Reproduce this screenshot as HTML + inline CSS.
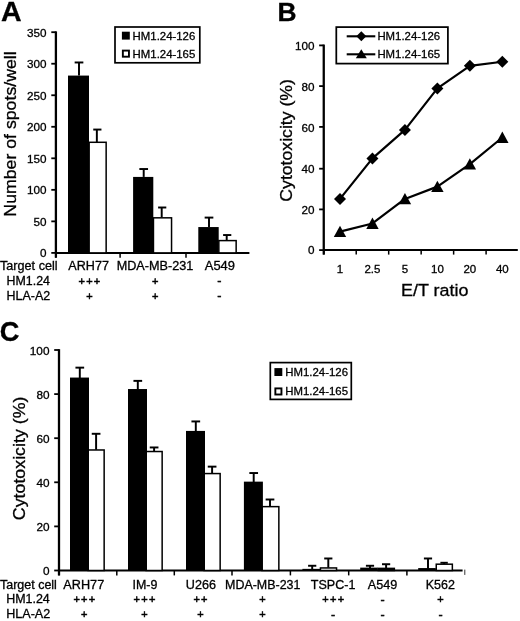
<!DOCTYPE html>
<html><head><meta charset="utf-8"><title>Figure</title>
<style>
html,body{margin:0;padding:0;background:#fff;}
svg{display:block;font-family:'Liberation Sans', Arial, Helvetica, sans-serif;fill:#000;}
text{stroke:#000;stroke-width:0.3px;}
</style></head>
<body>
<svg width="520" height="621" viewBox="0 0 520 621">
<rect x="0" y="0" width="520" height="621" fill="#fff"/>
<line x1="55.90" y1="31.35" x2="55.90" y2="257.70" stroke="#000" stroke-width="2.3" />
<line x1="55.90" y1="252.90" x2="249.40" y2="252.90" stroke="#000" stroke-width="2.0" />
<line x1="51.30" y1="252.90" x2="55.90" y2="252.90" stroke="#000" stroke-width="1.8" />
<text x="46.50" y="257.45" font-size="11.7" text-anchor="end" font-weight="normal" >0</text>
<line x1="51.30" y1="221.37" x2="55.90" y2="221.37" stroke="#000" stroke-width="1.8" />
<text x="46.50" y="225.92" font-size="11.7" text-anchor="end" font-weight="normal" >50</text>
<line x1="51.30" y1="189.84" x2="55.90" y2="189.84" stroke="#000" stroke-width="1.8" />
<text x="46.50" y="194.39" font-size="11.7" text-anchor="end" font-weight="normal" >100</text>
<line x1="51.30" y1="158.31" x2="55.90" y2="158.31" stroke="#000" stroke-width="1.8" />
<text x="46.50" y="162.86" font-size="11.7" text-anchor="end" font-weight="normal" >150</text>
<line x1="51.30" y1="126.79" x2="55.90" y2="126.79" stroke="#000" stroke-width="1.8" />
<text x="46.50" y="131.34" font-size="11.7" text-anchor="end" font-weight="normal" >200</text>
<line x1="51.30" y1="95.26" x2="55.90" y2="95.26" stroke="#000" stroke-width="1.8" />
<text x="46.50" y="99.81" font-size="11.7" text-anchor="end" font-weight="normal" >250</text>
<line x1="51.30" y1="63.73" x2="55.90" y2="63.73" stroke="#000" stroke-width="1.8" />
<text x="46.50" y="68.28" font-size="11.7" text-anchor="end" font-weight="normal" >300</text>
<line x1="51.30" y1="32.20" x2="55.90" y2="32.20" stroke="#000" stroke-width="1.8" />
<text x="46.50" y="36.75" font-size="11.7" text-anchor="end" font-weight="normal" >350</text>
<line x1="55.80" y1="252.90" x2="55.80" y2="257.70" stroke="#000" stroke-width="1.5" />
<line x1="120.10" y1="252.90" x2="120.10" y2="257.70" stroke="#000" stroke-width="1.5" />
<line x1="186.00" y1="252.90" x2="186.00" y2="257.70" stroke="#000" stroke-width="1.5" />
<line x1="79.00" y1="62.47" x2="79.00" y2="75.58" stroke="#000" stroke-width="1.95" />
<line x1="74.65" y1="62.47" x2="83.35" y2="62.47" stroke="#000" stroke-width="1.95" />
<line x1="96.85" y1="129.56" x2="96.85" y2="142.04" stroke="#000" stroke-width="1.95" />
<line x1="93.25" y1="129.56" x2="101.45" y2="129.56" stroke="#000" stroke-width="1.95" />
<rect x="68.00" y="75.58" width="21.00" height="177.32" fill="#000"/>
<rect x="89.15" y="142.29" width="17.00" height="110.61" fill="#fff" stroke="#000" stroke-width="1.5"/>
<line x1="143.70" y1="169.03" x2="143.70" y2="176.92" stroke="#000" stroke-width="1.95" />
<line x1="139.35" y1="169.03" x2="148.05" y2="169.03" stroke="#000" stroke-width="1.95" />
<line x1="161.70" y1="207.50" x2="161.70" y2="217.58" stroke="#000" stroke-width="1.95" />
<line x1="158.10" y1="207.50" x2="166.30" y2="207.50" stroke="#000" stroke-width="1.95" />
<rect x="133.10" y="176.92" width="20.20" height="75.98" fill="#000"/>
<rect x="153.45" y="217.83" width="18.10" height="35.07" fill="#fff" stroke="#000" stroke-width="1.5"/>
<line x1="209.00" y1="217.59" x2="209.00" y2="227.05" stroke="#000" stroke-width="1.95" />
<line x1="204.65" y1="217.59" x2="213.35" y2="217.59" stroke="#000" stroke-width="1.95" />
<line x1="226.70" y1="235.05" x2="226.70" y2="240.35" stroke="#000" stroke-width="1.95" />
<line x1="223.10" y1="235.05" x2="231.30" y2="235.05" stroke="#000" stroke-width="1.95" />
<rect x="198.30" y="227.05" width="20.40" height="25.85" fill="#000"/>
<rect x="218.85" y="240.60" width="17.30" height="12.30" fill="#fff" stroke="#000" stroke-width="1.5"/>
<rect x="115.0" y="27.0" width="84.8" height="35.8" fill="#fff" stroke="#000" stroke-width="1.7"/>
<rect x="121.9" y="31.7" width="7.9" height="7.9" fill="#000"/>
<rect x="122.85" y="50.6" width="6.1" height="6.1" fill="#fff" stroke="#000" stroke-width="1.9"/>
<text x="132.60" y="39.50" font-size="11.4" text-anchor="start" font-weight="normal" >HM1.24-126</text>
<text x="132.60" y="57.50" font-size="11.4" text-anchor="start" font-weight="normal" >HM1.24-165</text>
<text x="0.00" y="270.40" font-size="12.3" text-anchor="start" font-weight="normal"  textLength="57.6" lengthAdjust="spacingAndGlyphs">Target cell</text>
<text x="6.60" y="284.60" font-size="12.3" text-anchor="start" font-weight="normal"  textLength="43.4" lengthAdjust="spacingAndGlyphs">HM1.24</text>
<text x="6.60" y="300.00" font-size="12.3" text-anchor="start" font-weight="normal"  textLength="43.6" lengthAdjust="spacingAndGlyphs">HLA-A2</text>
<text x="88.60" y="270.40" font-size="12.3" text-anchor="middle" font-weight="normal"  textLength="40.6" lengthAdjust="spacingAndGlyphs">ARH77</text>
<text x="155.00" y="270.40" font-size="12.3" text-anchor="middle" font-weight="normal"  textLength="76.6" lengthAdjust="spacingAndGlyphs">MDA-MB-231</text>
<text x="219.90" y="270.40" font-size="12.3" text-anchor="middle" font-weight="normal"  textLength="30.2" lengthAdjust="spacingAndGlyphs">A549</text>
<text x="90.03" y="284.65" font-size="11.0" text-anchor="middle" font-weight="normal" style="stroke-width:0.5px;letter-spacing:1.25px">+++</text>
<text x="89.50" y="299.65" font-size="11.0" text-anchor="middle" font-weight="normal" style="stroke-width:0.5px">+</text>
<text x="155.30" y="284.65" font-size="11.0" text-anchor="middle" font-weight="normal" style="stroke-width:0.5px">+</text>
<text x="155.30" y="299.65" font-size="11.0" text-anchor="middle" font-weight="normal" style="stroke-width:0.5px">+</text>
<text x="219.30" y="285.30" font-size="12.5" text-anchor="middle" font-weight="normal" style="stroke-width:0.45px">-</text>
<text x="219.30" y="300.30" font-size="12.5" text-anchor="middle" font-weight="normal" style="stroke-width:0.45px">-</text>
<text transform="translate(16.20,134.00) rotate(-90)" font-size="17.0" text-anchor="middle" textLength="165.3" lengthAdjust="spacingAndGlyphs">Number of spots/well</text>
<text x="1.00" y="20.60" font-size="27.2" text-anchor="start" font-weight="bold"  textLength="20.6" lengthAdjust="spacingAndGlyphs">A</text>
<line x1="323.75" y1="44.55" x2="323.75" y2="254.60" stroke="#000" stroke-width="2.3" />
<line x1="323.75" y1="250.10" x2="517.80" y2="250.10" stroke="#000" stroke-width="2.0" />
<line x1="319.15" y1="250.10" x2="323.75" y2="250.10" stroke="#000" stroke-width="1.8" />
<text x="314.60" y="254.40" font-size="11.7" text-anchor="end" font-weight="normal" >0</text>
<line x1="319.15" y1="209.40" x2="323.75" y2="209.40" stroke="#000" stroke-width="1.8" />
<text x="314.60" y="214.05" font-size="11.7" text-anchor="end" font-weight="normal" >20</text>
<line x1="319.15" y1="168.70" x2="323.75" y2="168.70" stroke="#000" stroke-width="1.8" />
<text x="314.60" y="173.35" font-size="11.7" text-anchor="end" font-weight="normal" >40</text>
<line x1="319.15" y1="126.90" x2="323.75" y2="126.90" stroke="#000" stroke-width="1.8" />
<text x="314.60" y="131.55" font-size="11.7" text-anchor="end" font-weight="normal" >60</text>
<line x1="319.15" y1="86.10" x2="323.75" y2="86.10" stroke="#000" stroke-width="1.8" />
<text x="314.60" y="90.75" font-size="11.7" text-anchor="end" font-weight="normal" >80</text>
<line x1="319.15" y1="45.40" x2="323.75" y2="45.40" stroke="#000" stroke-width="1.8" />
<text x="314.60" y="50.05" font-size="11.7" text-anchor="end" font-weight="normal" >100</text>
<line x1="323.75" y1="250.10" x2="323.75" y2="254.60" stroke="#000" stroke-width="1.5" />
<line x1="356.22" y1="250.10" x2="356.22" y2="254.60" stroke="#000" stroke-width="1.5" />
<line x1="388.69" y1="250.10" x2="388.69" y2="254.60" stroke="#000" stroke-width="1.5" />
<line x1="421.16" y1="250.10" x2="421.16" y2="254.60" stroke="#000" stroke-width="1.5" />
<line x1="453.63" y1="250.10" x2="453.63" y2="254.60" stroke="#000" stroke-width="1.5" />
<line x1="486.10" y1="250.10" x2="486.10" y2="254.60" stroke="#000" stroke-width="1.5" />
<polyline points="339.99,198.93 372.45,158.39 404.93,129.94 437.39,88.39 469.87,65.87 502.33,61.78" fill="none" stroke="#000" stroke-width="2.2" stroke-linejoin="round"/>
<polyline points="339.99,231.68 372.45,223.49 404.93,198.93 437.39,186.64 469.87,164.13 502.33,137.51" fill="none" stroke="#000" stroke-width="2.2" stroke-linejoin="round"/>
<polygon points="333.99,198.93 339.99,192.93 345.99,198.93 339.99,204.93" fill="#000"/>
<polygon points="366.45,158.39 372.45,152.39 378.45,158.39 372.45,164.39" fill="#000"/>
<polygon points="398.93,129.94 404.93,123.94 410.93,129.94 404.93,135.94" fill="#000"/>
<polygon points="431.39,88.39 437.39,82.39 443.39,88.39 437.39,94.39" fill="#000"/>
<polygon points="463.87,65.87 469.87,59.87 475.87,65.87 469.87,71.87" fill="#000"/>
<polygon points="496.33,61.78 502.33,55.78 508.33,61.78 502.33,67.78" fill="#000"/>
<polygon points="333.79,237.08 339.99,225.68 346.19,237.08" fill="#000"/>
<polygon points="366.25,228.89 372.45,217.49 378.65,228.89" fill="#000"/>
<polygon points="398.73,204.32 404.93,192.93 411.12,204.32" fill="#000"/>
<polygon points="431.19,192.04 437.39,180.64 443.59,192.04" fill="#000"/>
<polygon points="463.67,169.53 469.87,158.13 476.06,169.53" fill="#000"/>
<polygon points="496.13,142.91 502.33,131.51 508.53,142.91" fill="#000"/>
<text x="339.99" y="273.10" font-size="11.5" text-anchor="middle" font-weight="normal" >1</text>
<text x="372.45" y="273.10" font-size="11.5" text-anchor="middle" font-weight="normal" >2.5</text>
<text x="404.93" y="273.10" font-size="11.5" text-anchor="middle" font-weight="normal" >5</text>
<text x="437.39" y="273.10" font-size="11.5" text-anchor="middle" font-weight="normal" >10</text>
<text x="469.87" y="273.10" font-size="11.5" text-anchor="middle" font-weight="normal" >20</text>
<text x="502.33" y="273.10" font-size="11.5" text-anchor="middle" font-weight="normal" >40</text>
<text x="434.70" y="295.50" font-size="16.8" text-anchor="middle" font-weight="normal"  textLength="67.4" lengthAdjust="spacingAndGlyphs">E/T ratio</text>
<text transform="translate(292.00,140.40) rotate(-90)" font-size="17.0" text-anchor="middle" textLength="122.6" lengthAdjust="spacingAndGlyphs">Cytotoxicity (%)</text>
<text x="277.40" y="21.20" font-size="26.4" text-anchor="start" font-weight="bold" >B</text>
<rect x="336.3" y="27.1" width="111.6" height="36.5" fill="#fff" stroke="#000" stroke-width="1.75"/>
<line x1="346.70" y1="36.30" x2="375.30" y2="36.30" stroke="#000" stroke-width="2.1" />
<line x1="346.70" y1="54.30" x2="375.30" y2="54.30" stroke="#000" stroke-width="2.1" />
<polygon points="356.30,36.30 361.30,31.30 366.30,36.30 361.30,41.30" fill="#000"/>
<polygon points="355.80,58.20 361.30,49.20 366.80,58.20" fill="#000"/>
<text x="377.40" y="40.10" font-size="11.4" text-anchor="start" font-weight="normal" >HM1.24-126</text>
<text x="377.40" y="57.60" font-size="11.4" text-anchor="start" font-weight="normal" >HM1.24-165</text>
<line x1="59.00" y1="349.15" x2="59.00" y2="575.40" stroke="#000" stroke-width="2.3" />
<line x1="59.00" y1="570.50" x2="462.60" y2="570.50" stroke="#000" stroke-width="2.0" />
<line x1="54.20" y1="570.50" x2="59.00" y2="570.50" stroke="#000" stroke-width="1.8" />
<text x="49.50" y="575.30" font-size="11.8" text-anchor="end" font-weight="normal" >0</text>
<line x1="54.20" y1="526.40" x2="59.00" y2="526.40" stroke="#000" stroke-width="1.8" />
<text x="49.50" y="531.20" font-size="11.8" text-anchor="end" font-weight="normal" >20</text>
<line x1="54.20" y1="482.30" x2="59.00" y2="482.30" stroke="#000" stroke-width="1.8" />
<text x="49.50" y="487.10" font-size="11.8" text-anchor="end" font-weight="normal" >40</text>
<line x1="54.20" y1="438.20" x2="59.00" y2="438.20" stroke="#000" stroke-width="1.8" />
<text x="49.50" y="443.00" font-size="11.8" text-anchor="end" font-weight="normal" >60</text>
<line x1="54.20" y1="394.10" x2="59.00" y2="394.10" stroke="#000" stroke-width="1.8" />
<text x="49.50" y="398.90" font-size="11.8" text-anchor="end" font-weight="normal" >80</text>
<line x1="54.20" y1="350.00" x2="59.00" y2="350.00" stroke="#000" stroke-width="1.8" />
<text x="49.50" y="354.80" font-size="11.8" text-anchor="end" font-weight="normal" >100</text>
<line x1="59.00" y1="570.50" x2="59.00" y2="575.40" stroke="#000" stroke-width="1.5" />
<line x1="116.80" y1="570.50" x2="116.80" y2="575.40" stroke="#000" stroke-width="1.5" />
<line x1="174.30" y1="570.50" x2="174.30" y2="575.40" stroke="#000" stroke-width="1.5" />
<line x1="232.00" y1="570.50" x2="232.00" y2="575.40" stroke="#000" stroke-width="1.5" />
<line x1="290.40" y1="570.50" x2="290.40" y2="575.40" stroke="#000" stroke-width="1.5" />
<line x1="348.70" y1="570.50" x2="348.70" y2="575.40" stroke="#000" stroke-width="1.5" />
<line x1="406.90" y1="570.50" x2="406.90" y2="575.40" stroke="#000" stroke-width="1.5" />
<line x1="464.8" y1="569.6" x2="464.8" y2="574.9" stroke="#333" stroke-width="1"/>
<rect x="88.05" y="449.98" width="16.10" height="120.52" fill="#fff" stroke="#000" stroke-width="1.5"/>
<rect x="70.00" y="377.56" width="19.00" height="192.94" fill="#000"/>
<line x1="79.80" y1="367.64" x2="79.80" y2="378.36" stroke="#000" stroke-width="1.95" />
<line x1="75.45" y1="367.64" x2="84.15" y2="367.64" stroke="#000" stroke-width="1.95" />
<line x1="96.10" y1="433.79" x2="96.10" y2="449.73" stroke="#000" stroke-width="1.95" />
<line x1="91.75" y1="433.79" x2="100.45" y2="433.79" stroke="#000" stroke-width="1.95" />
<rect x="146.05" y="451.52" width="16.10" height="118.98" fill="#fff" stroke="#000" stroke-width="1.5"/>
<rect x="128.00" y="389.03" width="19.00" height="181.47" fill="#000"/>
<line x1="137.80" y1="380.87" x2="137.80" y2="389.83" stroke="#000" stroke-width="1.95" />
<line x1="133.45" y1="380.87" x2="142.15" y2="380.87" stroke="#000" stroke-width="1.95" />
<line x1="154.10" y1="447.46" x2="154.10" y2="451.27" stroke="#000" stroke-width="1.95" />
<line x1="149.75" y1="447.46" x2="158.45" y2="447.46" stroke="#000" stroke-width="1.95" />
<rect x="204.05" y="473.57" width="16.10" height="96.93" fill="#fff" stroke="#000" stroke-width="1.5"/>
<rect x="186.00" y="430.92" width="19.00" height="139.58" fill="#000"/>
<line x1="195.80" y1="421.44" x2="195.80" y2="431.72" stroke="#000" stroke-width="1.95" />
<line x1="191.45" y1="421.44" x2="200.15" y2="421.44" stroke="#000" stroke-width="1.95" />
<line x1="212.10" y1="466.64" x2="212.10" y2="473.32" stroke="#000" stroke-width="1.95" />
<line x1="207.75" y1="466.64" x2="216.45" y2="466.64" stroke="#000" stroke-width="1.95" />
<rect x="261.95" y="506.64" width="16.90" height="63.86" fill="#fff" stroke="#000" stroke-width="1.5"/>
<rect x="243.90" y="481.64" width="19.00" height="88.86" fill="#000"/>
<line x1="253.70" y1="473.04" x2="253.70" y2="482.44" stroke="#000" stroke-width="1.95" />
<line x1="249.35" y1="473.04" x2="258.05" y2="473.04" stroke="#000" stroke-width="1.95" />
<line x1="270.00" y1="499.50" x2="270.00" y2="506.39" stroke="#000" stroke-width="1.95" />
<line x1="265.65" y1="499.50" x2="274.35" y2="499.50" stroke="#000" stroke-width="1.95" />
<rect x="320.45" y="567.94" width="16.10" height="2.56" fill="#fff" stroke="#000" stroke-width="1.5"/>
<rect x="302.40" y="568.85" width="17.60" height="1.65" fill="#000"/>
<line x1="312.20" y1="565.76" x2="312.20" y2="569.65" stroke="#000" stroke-width="1.95" />
<line x1="308.10" y1="565.76" x2="316.30" y2="565.76" stroke="#000" stroke-width="1.95" />
<line x1="328.30" y1="558.48" x2="328.30" y2="567.69" stroke="#000" stroke-width="1.95" />
<line x1="324.20" y1="558.48" x2="332.40" y2="558.48" stroke="#000" stroke-width="1.95" />
<rect x="378.25" y="568.38" width="16.10" height="2.12" fill="#000" stroke="#000" stroke-width="1.5"/>
<rect x="360.20" y="567.63" width="17.60" height="2.87" fill="#000"/>
<line x1="370.00" y1="565.76" x2="370.00" y2="568.43" stroke="#000" stroke-width="1.95" />
<line x1="365.90" y1="565.76" x2="374.10" y2="565.76" stroke="#000" stroke-width="1.95" />
<line x1="386.10" y1="564.22" x2="386.10" y2="568.13" stroke="#000" stroke-width="1.95" />
<line x1="382.00" y1="564.22" x2="390.20" y2="564.22" stroke="#000" stroke-width="1.95" />
<rect x="436.25" y="564.19" width="16.10" height="6.31" fill="#fff" stroke="#000" stroke-width="1.5"/>
<rect x="418.20" y="568.07" width="17.60" height="2.43" fill="#000"/>
<line x1="428.00" y1="558.48" x2="428.00" y2="568.87" stroke="#000" stroke-width="1.95" />
<line x1="423.90" y1="558.48" x2="432.10" y2="558.48" stroke="#000" stroke-width="1.95" />
<line x1="444.10" y1="562.78" x2="444.10" y2="563.94" stroke="#000" stroke-width="1.95" />
<line x1="440.40" y1="562.78" x2="447.80" y2="562.78" stroke="#000" stroke-width="1.95" />
<rect x="270.3" y="362.6" width="81.0" height="36.8" fill="#fff" stroke="#000" stroke-width="1.7"/>
<rect x="274.4" y="368.1" width="7.9" height="7.9" fill="#000"/>
<rect x="275.35" y="388.4" width="6.1" height="6.1" fill="#fff" stroke="#000" stroke-width="1.9"/>
<text x="285.30" y="376.30" font-size="11.4" text-anchor="start" font-weight="normal" >HM1.24-126</text>
<text x="285.30" y="395.10" font-size="11.4" text-anchor="start" font-weight="normal" >HM1.24-165</text>
<text x="0.00" y="588.90" font-size="12.3" text-anchor="start" font-weight="normal"  textLength="56.9" lengthAdjust="spacingAndGlyphs">Target cell</text>
<text x="6.20" y="603.30" font-size="12.3" text-anchor="start" font-weight="normal"  textLength="43.6" lengthAdjust="spacingAndGlyphs">HM1.24</text>
<text x="6.20" y="618.20" font-size="12.3" text-anchor="start" font-weight="normal"  textLength="44.0" lengthAdjust="spacingAndGlyphs">HLA-A2</text>
<text x="83.75" y="588.90" font-size="12.3" text-anchor="middle" font-weight="normal"  textLength="40.9" lengthAdjust="spacingAndGlyphs">ARH77</text>
<text x="145.00" y="588.90" font-size="12.3" text-anchor="middle" font-weight="normal"  textLength="24.9" lengthAdjust="spacingAndGlyphs">IM-9</text>
<text x="200.88" y="588.90" font-size="12.3" text-anchor="middle" font-weight="normal"  textLength="30.15" lengthAdjust="spacingAndGlyphs">U266</text>
<text x="262.75" y="588.90" font-size="12.3" text-anchor="middle" font-weight="normal"  textLength="75.4" lengthAdjust="spacingAndGlyphs">MDA-MB-231</text>
<text x="333.15" y="588.90" font-size="12.3" text-anchor="middle" font-weight="normal"  textLength="44.6" lengthAdjust="spacingAndGlyphs">TSPC-1</text>
<text x="382.50" y="588.90" font-size="12.3" text-anchor="middle" font-weight="normal"  textLength="29.5" lengthAdjust="spacingAndGlyphs">A549</text>
<text x="440.38" y="588.90" font-size="12.3" text-anchor="middle" font-weight="normal"  textLength="29.15" lengthAdjust="spacingAndGlyphs">K562</text>
<text x="84.92" y="603.45" font-size="11.0" text-anchor="middle" font-weight="normal" style="stroke-width:0.5px;letter-spacing:1.25px">+++</text>
<text x="84.30" y="618.35" font-size="11.0" text-anchor="middle" font-weight="normal" style="stroke-width:0.5px">+</text>
<text x="145.12" y="603.45" font-size="11.0" text-anchor="middle" font-weight="normal" style="stroke-width:0.5px;letter-spacing:1.25px">+++</text>
<text x="144.50" y="618.35" font-size="11.0" text-anchor="middle" font-weight="normal" style="stroke-width:0.5px">+</text>
<text x="201.12" y="603.45" font-size="11.0" text-anchor="middle" font-weight="normal" style="stroke-width:0.5px;letter-spacing:1.25px">++</text>
<text x="200.50" y="618.35" font-size="11.0" text-anchor="middle" font-weight="normal" style="stroke-width:0.5px">+</text>
<text x="262.50" y="603.45" font-size="11.0" text-anchor="middle" font-weight="normal" style="stroke-width:0.5px">+</text>
<text x="262.50" y="618.35" font-size="11.0" text-anchor="middle" font-weight="normal" style="stroke-width:0.5px">+</text>
<text x="333.82" y="603.45" font-size="11.0" text-anchor="middle" font-weight="normal" style="stroke-width:0.5px;letter-spacing:1.25px">+++</text>
<text x="333.20" y="619.20" font-size="12.5" text-anchor="middle" font-weight="normal" style="stroke-width:0.45px">-</text>
<text x="382.50" y="604.00" font-size="12.5" text-anchor="middle" font-weight="normal" style="stroke-width:0.45px">-</text>
<text x="382.50" y="619.20" font-size="12.5" text-anchor="middle" font-weight="normal" style="stroke-width:0.45px">-</text>
<text x="440.50" y="603.45" font-size="11.0" text-anchor="middle" font-weight="normal" style="stroke-width:0.5px">+</text>
<text x="440.50" y="619.20" font-size="12.5" text-anchor="middle" font-weight="normal" style="stroke-width:0.45px">-</text>
<text transform="translate(25.20,458.40) rotate(-90)" font-size="17.0" text-anchor="middle" textLength="123.6" lengthAdjust="spacingAndGlyphs">Cytotoxicity (%)</text>
<text x="-0.30" y="341.00" font-size="27.2" text-anchor="start" font-weight="bold" >C</text>
</svg>
</body></html>
